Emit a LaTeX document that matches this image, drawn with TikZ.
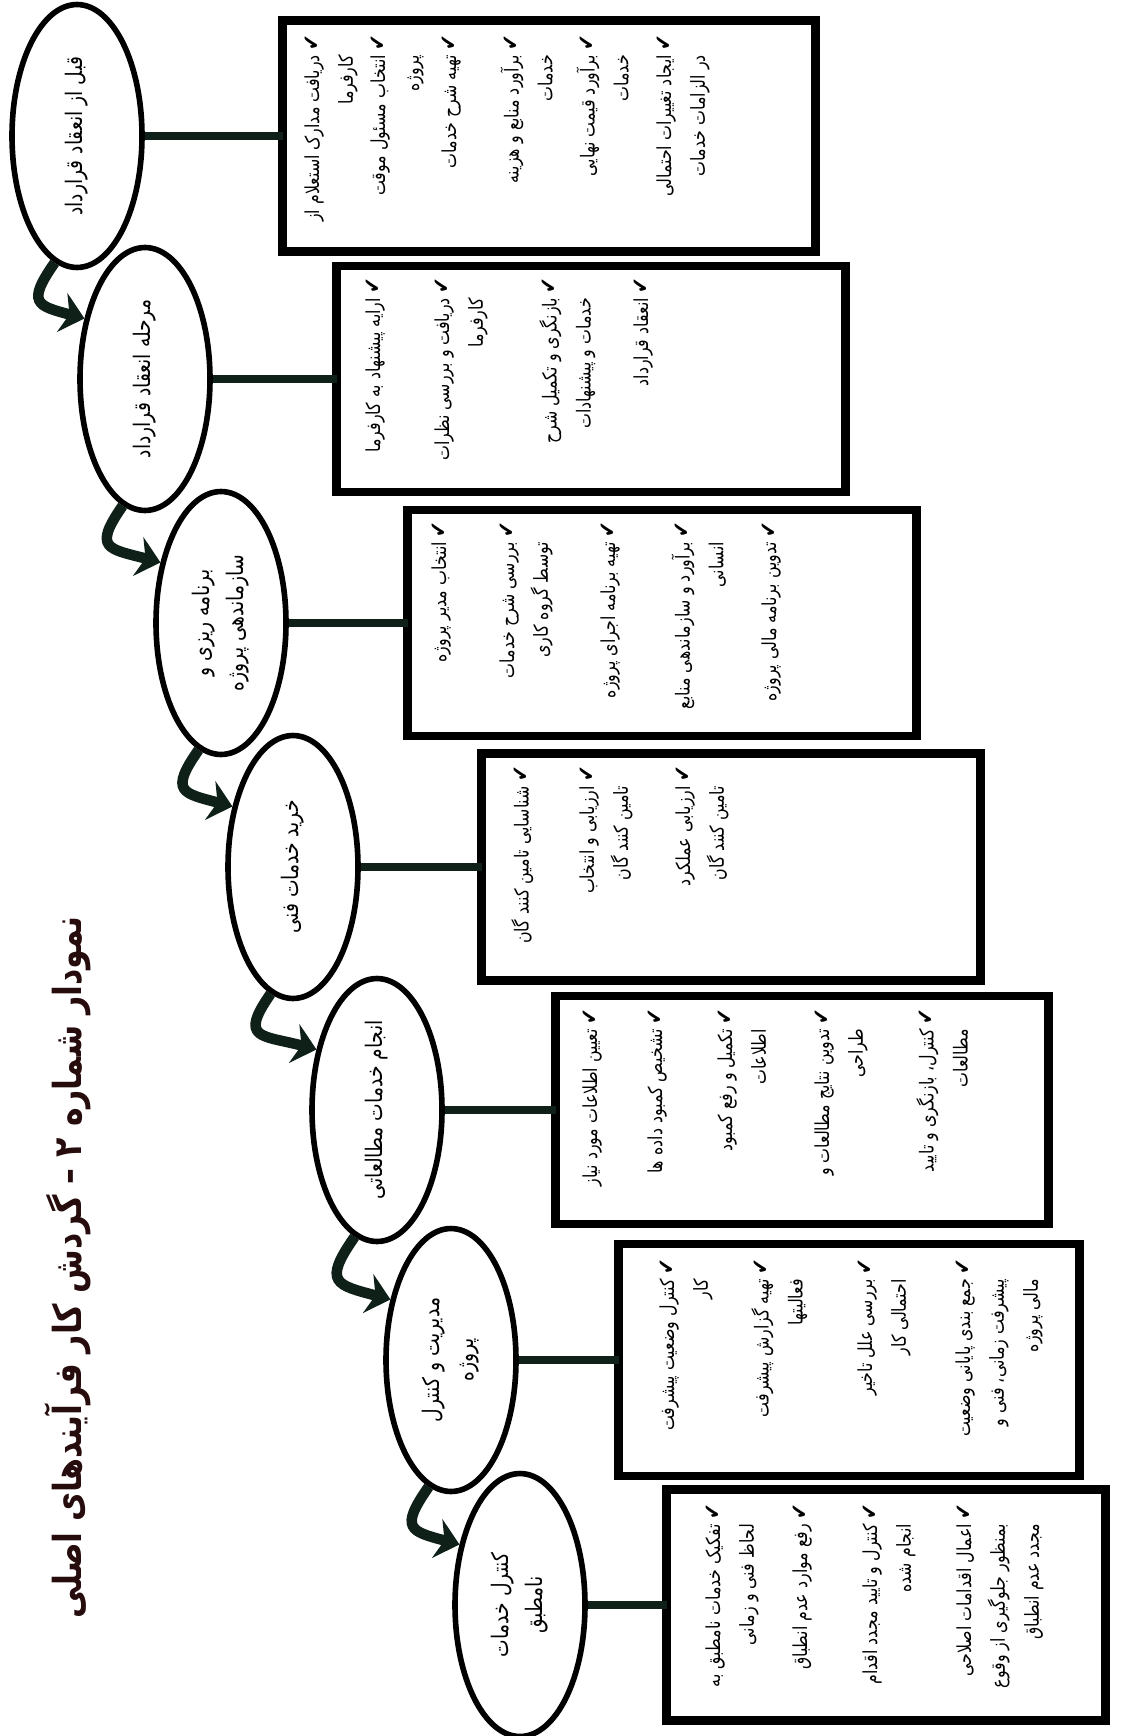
\documentclass[tikz,border=0pt]{standalone}
\usepackage{fontspec}
\usepackage{xcolor}
\usetikzlibrary{shapes.geometric,arrows.meta}
\TeXXeTstate=1
\newfontfamily\persianfont[Script=Arabic,FakeStretch=0.82]{DejaVu Sans}
\newcommand{\fa}[1]{\beginR#1\endR}
\newcommand{\chk}{{\fontsize{13}{13}\selectfont ✔}\ }
\newcommand{\ind}{\hphantom{\chk}}
\definecolor{arrowdark}{RGB}{14,32,24}
\definecolor{titledark}{RGB}{38,12,12}

\begin{document}
\begin{tikzpicture}[x=0.02cm,y=0.02cm,
    stage/.style={ellipse,draw,line width=3.2pt,rotate=90,minimum width=5.26cm,minimum height=2.6cm,inner sep=0pt,align=center,font=\persianfont\fontsize{13}{19.3}\selectfont},
    stagebox/.style={draw,line width=5pt,outer sep=0pt},
    item/.style={rotate=90,anchor=north east,inner sep=0pt,align=right,font=\persianfont\fontsize{11}{19.3}\selectfont},
    link/.style={draw=arrowdark,line width=4.5pt},
    flow/.style={draw=arrowdark,line width=6pt,-{Stealth[length=0.46cm,width=0.8cm]},out=235,in=165,looseness=2}]
    \useasboundingbox (0,0) rectangle (1123,-1736);

    % title
    \node[rotate=90,anchor=east,text=titledark,font=\persianfont\bfseries\fontsize{22}{26}\selectfont] (title) at (68,-910)
        {\fa{نمودار شماره ۲ – گردش کار فرآیندهای اصلی}};

    % stages
    \node[stage] (e1) at (77,-136) {\fa{قبل از انعقاد قرارداد}};
    \node[stage] (e2) at (145,-379) {\fa{مرحله انعقاد قرارداد}};
    \node[stage] (e3) at (221,-623) {\fa{برنامه ریزی و}\\\fa{سازماندهی پروژه}};
    \node[stage] (e4) at (293,-867) {\fa{خرید خدمات فنی}};
    \node[stage] (e5) at (377,-1110) {\fa{انجام خدمات مطالعاتی}};
    \node[stage] (e6) at (451,-1360) {\fa{مدیریت و کنترل}\\\fa{پروژه}};
    \node[stage] (e7) at (520,-1605) {\fa{کنترل خدمات}\\\fa{نامطبق}};

    % boxes
    \node[stagebox,minimum width=10.66cm,minimum height=4.62cm] (b1) at (549,-136) {};
    \node[stagebox,minimum width=10.18cm,minimum height=4.52cm] (b2) at (591,-379) {};
    \node[stagebox,minimum width=10.18cm,minimum height=4.52cm] (b3) at (662,-623) {};
    \node[stagebox,minimum width=9.98cm,minimum height=4.54cm] (b4) at (731,-867) {};
    \node[stagebox,minimum width=9.86cm,minimum height=4.56cm] (b5) at (802,-1110) {};
    \node[stagebox,minimum width=9.22cm,minimum height=4.64cm] (b6) at (849,-1360) {};
    \node[stagebox,minimum width=8.78cm,minimum height=4.62cm] (b7) at (886,-1605) {};

    % box 1
    \node[item] (b1a) at (304,-34) {\fa{\chk دریافت مدارک استعلام از}\\\fa{\ind کارفرما}};
    \node[item] (b1b) at (370,-34) {\fa{\chk انتخاب مسئول موقت}\\\fa{\ind پروژه}};
    \node[item] (b1c) at (441,-34) {\fa{\chk تهیه شرح خدمات}};
    \node[item] (b1d) at (500,-34) {\fa{\chk برآورد منابع و هزینه}\\\fa{\ind خدمات}};
    \node[item] (b1e) at (576,-34) {\fa{\chk برآورد قیمت نهایی}\\\fa{\ind خدمات}};
    \node[item] (b1f) at (656,-34) {\fa{\chk ایجاد تغییرات احتمالی}\\\fa{\ind در الزامات خدمات}};

    % box 2
    \node[item] (b2a) at (365,-277) {\fa{\chk ارایه پیشنهاد به کارفرما}};
    \node[item] (b2b) at (434,-277) {\fa{\chk دریافت و بررسی نظرات}\\\fa{\ind کارفرما}};
    \node[item] (b2c) at (539,-277) {\fa{\chk بازنگری و تکمیل شرح}\\\fa{\ind خدمات و پیشنهادات}};
    \node[item] (b2d) at (633,-277) {\fa{\chk انعقاد قرارداد}};

    % box 3
    \node[item] (b3a) at (431,-521) {\fa{\chk انتخاب مدیر پروژه}};
    \node[item] (b3b) at (499,-521) {\fa{\chk بررسی شرح خدمات}\\\fa{\ind توسط گروه کاری}};
    \node[item] (b3c) at (600,-521) {\fa{\chk تهیه برنامه اجرای پروژه}};
    \node[item] (b3d) at (671,-521) {\fa{\chk برآورد و سازماندهی منابع}\\\fa{\ind انسانی}};
    \node[item] (b3e) at (761,-521) {\fa{\chk تدوین برنامه مالی پروژه}};

    % box 4
    \node[item] (b4a) at (511,-765) {\fa{\chk شناسایی تامین کنند گان}};
    \node[item] (b4b) at (579,-765) {\fa{\chk ارزیابی و انتخاب}\\\fa{\ind تامین کنند گان}};
    \node[item] (b4c) at (675,-765) {\fa{\chk ارزیابی عملکرد}\\\fa{\ind تامین کنند گان}};

    % box 5
    \node[item] (b5a) at (582,-1008) {\fa{\chk تعیین اطلاعات مورد نیاز}};
    \node[item] (b5b) at (647,-1008) {\fa{\chk تشخیص کمبود داده ها}};
    \node[item] (b5c) at (717,-1008) {\fa{\chk تکمیل و رفع کمبود}\\\fa{\ind اطلاعات}};
    \node[item] (b5d) at (814,-1008) {\fa{\chk تدوین نتایج مطالعات و}\\\fa{\ind طراحی}};
    \node[item] (b5e) at (916,-1008) {\fa{\chk کنترل، بازنگری و تایید}\\\fa{\ind مطالعات}};

    % box 6
    \node[item] (b6a) at (659,-1258) {\fa{\chk کنترل وضعیت پیشرفت}\\\fa{\ind کار}};
    \node[item] (b6b) at (751,-1258) {\fa{\chk تهیه گزارش پیشرفت}\\\fa{\ind فعالیتها}};
    \node[item] (b6c) at (857,-1258) {\fa{\chk بررسی علل تاخیر}\\\fa{\ind احتمالی کار}};
    \node[item] (b6d) at (955,-1258) {\fa{\chk جمع بندی پایانی وضعیت}\\\fa{\ind پیشرفت زمانی، فنی و}\\\fa{\ind مالی پروژه}};

    % box 7
    \node[item] (b7a) at (705,-1503) {\fa{\chk تفکیک خدمات نامطبق به}\\\fa{\ind لحاظ فنی و زمانی}};
    \node[item] (b7b) at (792,-1503) {\fa{\chk رفع موارد عدم انطباق}};
    \node[item] (b7c) at (862,-1503) {\fa{\chk کنترل و تایید مجدد اقدام}\\\fa{\ind انجام شده}};
    \node[item] (b7d) at (956,-1503) {\fa{\chk اعمال اقدامات اصلاحی}\\\fa{\ind بمنظور جلوگیری از وقوع}\\\fa{\ind مجدد عدم انطباق}};

    % links stage -> box
    \draw[link] (e1) -- (b1);
    \draw[link] (e2) -- (b2);
    \draw[link] (e3) -- (b3);
    \draw[link] (e4) -- (b4);
    \draw[link] (e5) -- (b5);
    \draw[link] (e6) -- (b6);
    \draw[link] (e7) -- (b7);

    % flow between stages
    \draw[flow] (e1.170) to (e2.45);
    \draw[flow] (e2.170) to (e3.45);
    \draw[flow] (e3.170) to (e4.45);
    \draw[flow] (e4.170) to (e5.45);
    \draw[flow] (e5.170) to (e6.45);
    \draw[flow] (e6.170) to (e7.45);
\end{tikzpicture}
\end{document}
